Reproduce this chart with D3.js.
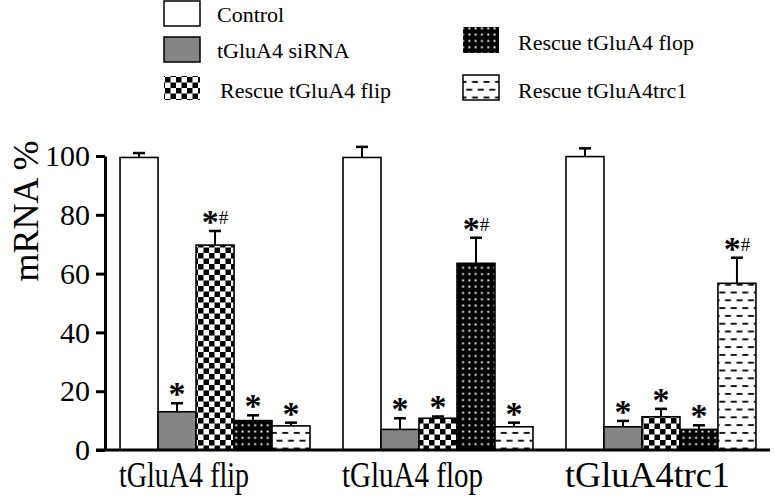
<!DOCTYPE html>
<html>
<head>
<meta charset="utf-8">
<script src="https://cdn.jsdelivr.net/npm/d3@7"></script>
<style>
  body { margin: 0; background: #fff; }
  text { font-family: "Liberation Serif", "Times New Roman", serif; fill: #000; }
</style>
</head>
<body>
<div id="chart"></div>
<script>
// data
const groups = ["tGluA4 flip", "tGluA4 flop", "tGluA4trc1"];
const series = ["Control", "tGluA4 siRNA", "Rescue tGluA4 flip", "Rescue tGluA4 flop", "Rescue tGluA4trc1"];
const means = [
  [99.5, 13.0, 69.7, 10.0, 8.2],
  [99.5, 7.0, 10.8, 63.5, 7.9],
  [99.8, 7.9, 11.3, 7.0, 56.7],
];
const errors = [
  [1.5, 2.9, 4.8, 1.8, 1.1],
  [3.6, 3.8, 0.6, 8.7, 1.4],
  [2.8, 2.0, 2.7, 1.4, 8.7],
];
const marks = [
  ["", "*", "*#", "*", "*"],
  ["", "*", "*", "*#", "*"],
  ["", "*", "*", "*", "*#"],
];
const yTicks = [0, 20, 40, 60, 80, 100];

// layout
const width = 775,
  height = 498;
const labelWidths = [130, 141, 165];
const fills = ["#ffffff", "#858585", "url(#checker)", "url(#dots)", "url(#dashes)"];
// legend: box x, box y, box height, text x, text baseline
const legendPos = [
  [164, 1, 25, 217, 22],
  [164, 37, 25, 217, 58],
  [164, 76, 24, 220, 98],
  [463, 27, 26, 518, 50],
  [463, 75, 25, 518, 98],
];

const svg = d3
  .select("#chart")
  .append("svg")
  .attr("width", width)
  .attr("height", height);

// fill patterns
const defs = svg.append("defs");

const checker = defs
  .append("pattern")
  .attr("id", "checker")
  .attr("patternUnits", "userSpaceOnUse")
  .attr("width", 11)
  .attr("height", 11);
checker.append("rect").attr("width", 11).attr("height", 11).attr("fill", "#fff");
checker.append("rect").attr("width", 5.5).attr("height", 5.5).attr("fill", "#000");
checker.append("rect").attr("x", 5.5).attr("y", 5.5).attr("width", 5.5).attr("height", 5.5).attr("fill", "#000");

const dots = defs
  .append("pattern")
  .attr("id", "dots")
  .attr("patternUnits", "userSpaceOnUse")
  .attr("width", 6.3)
  .attr("height", 6.3);
dots.append("rect").attr("width", 6.3).attr("height", 6.3).attr("fill", "#000");
dots.append("rect").attr("x", 2.2).attr("y", 2.2).attr("width", 1.9).attr("height", 1.9).attr("fill", "#fff");

const dashes = defs
  .append("pattern")
  .attr("id", "dashes")
  .attr("patternUnits", "userSpaceOnUse")
  .attr("width", 11.5)
  .attr("height", 15.6);
dashes.append("rect").attr("width", 11.5).attr("height", 15.6).attr("fill", "#fff");
dashes.append("rect").attr("x", 0.5).attr("y", 3).attr("width", 6).attr("height", 1.8).attr("fill", "#000");
dashes.append("rect").attr("x", 6.25).attr("y", 10.8).attr("width", 6).attr("height", 1.8).attr("fill", "#000");
dashes.append("rect").attr("x", -5.25).attr("y", 10.8).attr("width", 6).attr("height", 1.8).attr("fill", "#000");

// scales
const y = d3.scaleLinear().domain([0, 100]).range([450, 156]);
const x0 = d3
  .scaleBand()
  .domain(groups)
  .range([106, 770])
  .paddingInner(0.148)
  .paddingOuter(0.063);
const x1 = d3.scaleBand().domain(series).range([0, x0.bandwidth()]);
const color = d3.scaleOrdinal().domain(series).range(fills);

// bars
const rows = [];
groups.forEach(function (g, gi) {
  series.forEach(function (s, si) {
    rows.push({ group: g, series: s, value: means[gi][si], err: errors[gi][si], mark: marks[gi][si] });
  });
});

svg
  .selectAll("rect.bar")
  .data(rows)
  .enter()
  .append("rect")
  .attr("class", "bar")
  .attr("x", function (d) { return x0(d.group) + x1(d.series); })
  .attr("y", function (d) { return y(d.value); })
  .attr("width", x1.bandwidth())
  .attr("height", function (d) { return y(0) - y(d.value); })
  .attr("fill", function (d) { return color(d.series); })
  .attr("stroke", "#000")
  .attr("stroke-width", 1.6);

// error bars (upper half only)
const cx = function (d) { return x0(d.group) + x1(d.series) + x1.bandwidth() / 2; };

svg
  .selectAll("line.err")
  .data(rows)
  .enter()
  .append("line")
  .attr("class", "err")
  .attr("x1", cx)
  .attr("x2", cx)
  .attr("y1", function (d) { return y(d.value); })
  .attr("y2", function (d) { return y(d.value + d.err); })
  .attr("stroke", "#000")
  .attr("stroke-width", 2);

svg
  .selectAll("line.cap")
  .data(rows)
  .enter()
  .append("line")
  .attr("class", "cap")
  .attr("x1", function (d) { return cx(d) - 6; })
  .attr("x2", function (d) { return cx(d) + 6; })
  .attr("y1", function (d) { return y(d.value + d.err); })
  .attr("y2", function (d) { return y(d.value + d.err); })
  .attr("stroke", "#000")
  .attr("stroke-width", 2.5);

// significance marks
const markText = svg
  .selectAll("text.mark")
  .data(rows.filter(function (d) { return d.mark !== ""; }))
  .enter()
  .append("text")
  .attr("class", "mark")
  .attr("x", cx)
  .attr("y", function (d) { return y(d.value + d.err) + 2; })
  .attr("text-anchor", "middle");

markText
  .append("tspan")
  .style("font-size", "34px")
  .style("font-weight", "bold")
  .text("*");

markText
  .filter(function (d) { return d.mark.length > 1; })
  .append("tspan")
  .style("font-size", "19px")
  .attr("dy", -9)
  .text("#");

// y axis
const yAxis = svg
  .append("g")
  .attr("transform", "translate(105,0)")
  .call(d3.axisLeft(y).tickValues(yTicks).tickSize(9).tickSizeOuter(0).tickPadding(6));

yAxis.select(".domain").attr("stroke", "#000").attr("stroke-width", 3);
yAxis.selectAll(".tick line").attr("stroke", "#000").attr("stroke-width", 3);
yAxis
  .selectAll(".tick text")
  .style("font-family", "'Liberation Serif', 'Times New Roman', serif")
  .style("font-size", "30px")
  .attr("fill", "#000");

// baseline
svg
  .append("line")
  .attr("x1", 96)
  .attr("x2", 770)
  .attr("y1", y(0))
  .attr("y2", y(0))
  .attr("stroke", "#000")
  .attr("stroke-width", 3);

// group labels, left aligned under each group
svg
  .selectAll("text.group")
  .data(groups)
  .enter()
  .append("text")
  .attr("class", "group")
  .attr("x", function (d) { return x0(d) - 1; })
  .attr("y", 487)
  .attr("textLength", function (d, i) { return labelWidths[i]; })
  .attr("lengthAdjust", "spacingAndGlyphs")
  .style("font-size", "35px")
  .text(function (d) { return d; });

// y label
svg
  .append("text")
  .attr("transform", "translate(38,211) rotate(-90)")
  .attr("text-anchor", "middle")
  .style("font-size", "36px")
  .text("mRNA %");

// legend
const legend = svg
  .selectAll("g.legend")
  .data(series)
  .enter()
  .append("g")
  .attr("class", "legend");

legend
  .append("rect")
  .attr("x", function (d, i) { return legendPos[i][0]; })
  .attr("y", function (d, i) { return legendPos[i][1]; })
  .attr("width", 36)
  .attr("height", function (d, i) { return legendPos[i][2]; })
  .attr("fill", function (d) { return color(d); })
  .attr("stroke", function (d, i) { return i < 2 || i === 4 ? "#000" : "none"; })
  .attr("stroke-width", 1.5);

legend
  .append("text")
  .attr("x", function (d, i) { return legendPos[i][3]; })
  .attr("y", function (d, i) { return legendPos[i][4]; })
  .style("font-size", "22px")
  .text(function (d) { return d; });
</script>
</body>
</html>
